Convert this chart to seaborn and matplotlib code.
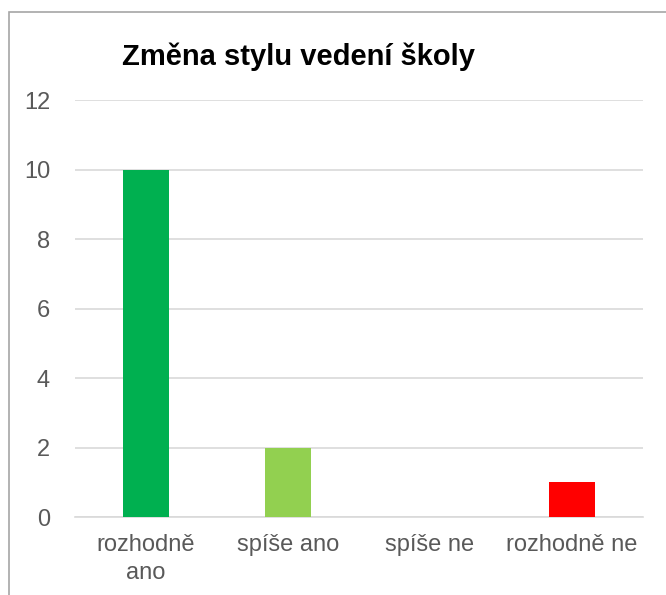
import matplotlib
matplotlib.use("Agg")
import matplotlib.pyplot as plt
import pandas as pd
import seaborn as sns
from matplotlib.patches import Rectangle

categories = ["rozhodně\nano", "spíše ano", "spíše ne", "rozhodně ne"]
values = [10, 2, 0, 1]
colors = ["#00B050", "#92D050", "#FFC000", "#FF0000"]
title = "Změna stylu vedení školy"

sns.set_style("white")
plt.rcParams["font.family"] = ["Liberation Sans", "DejaVu Sans"]

df = pd.DataFrame({"kategorie": categories, "pocet": values})

fig = plt.figure(figsize=(6.66, 5.95), dpi=100)
ax = fig.add_axes([75 / 666, 1 - 517 / 595, (643 - 75) / 666, (517 - 100) / 595])

sns.barplot(data=df, x="kategorie", y="pocet", hue="kategorie", palette=colors,
            legend=False, width=0.32, saturation=1, linewidth=0, ax=ax, zorder=3)

ax.set_ylim(0, 12)
ax.set_yticks(range(0, 13, 2))
ax.set_xlim(-0.5, 3.5)
ax.set_xlabel("")
ax.set_ylabel("")
ax.grid(axis="y", color="#D9D9D9", linewidth=1.2, zorder=0)
for s in ["top", "right", "left"]:
    ax.spines[s].set_visible(False)
ax.spines["bottom"].set_color("#D9D9D9")
ax.spines["bottom"].set_linewidth(1.2)
ax.tick_params(axis="both", length=0, labelsize=17, colors="#595959")
ax.tick_params(axis="x", pad=12)
ax.tick_params(axis="y", pad=18)
for lbl in ax.get_xticklabels():
    lbl.set_linespacing(1.4)

fig.text(298 / 666, 1 - 57 / 595, title, ha="center", va="center",
         fontsize=21, fontweight="bold", color="black")

# chart frame
fig.patches.append(Rectangle((9 / 666, -0.1), 1.2, 1 - 12 / 595 + 0.1,
                             transform=fig.transFigure, fill=False,
                             edgecolor="#A6A6A6", linewidth=1.2))

fig.savefig("out.png", dpi=100)
